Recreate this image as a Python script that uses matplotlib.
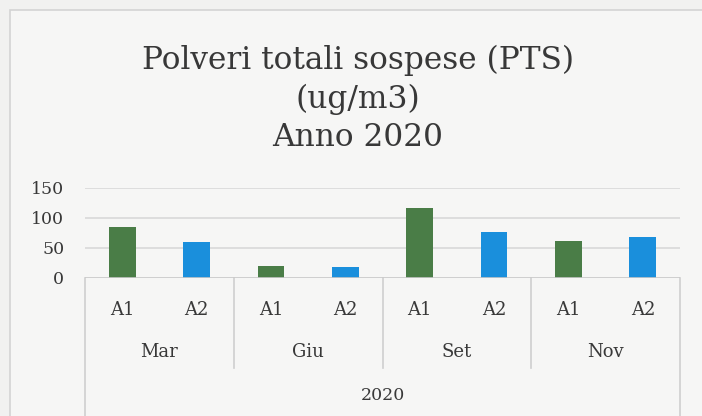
import matplotlib
matplotlib.use("Agg")
import matplotlib.pyplot as plt
import matplotlib.transforms as mtransforms
from matplotlib.lines import Line2D
from matplotlib.patches import Rectangle

# ---- data ----
title_lines = ["Polveri totali sospese (PTS)", "(ug/m3)", "Anno 2020"]
months = ["Mar", "Giu", "Set", "Nov"]
stations = ["A1", "A2"]
values_a1 = [85, 20, 117, 62]
values_a2 = [60, 18, 77, 69]
year = "2020"
yticks = [0, 50, 100, 150]

W, H = 702, 416
fig = plt.figure(figsize=(W / 100, H / 100), dpi=100)
bg = "#f1f1f0"
fig.patch.set_facecolor(bg)
plt.rcParams["font.family"] = ["DejaVu Serif"]
txt = "#383838"

# chart border
fig.add_artist(Rectangle((10 / W, -0.05), 1.2, 1 - 10 / H + 0.05, transform=fig.transFigure,
                         facecolor="#f6f6f5", edgecolor="#d4d4d4", lw=1.2, zorder=0))

left, right, y0, y150 = 85, 680, 278, 188
ax = fig.add_axes([left / W, 1 - y0 / H, (right - left) / W, (y0 - y150) / H])
ax.set_facecolor("none")

n = len(months) * len(stations)
xs = list(range(n))
vals = []
cols = []
labels = []
for i, m in enumerate(months):
    vals += [values_a1[i], values_a2[i]]
    cols += ["#4a7d47", "#1a8fdc"]
    labels += stations
ax.bar(xs, vals, width=0.36, color=cols, zorder=3)

ax.set_xlim(-0.5, n - 0.5)
ax.set_ylim(0, 150)
ax.set_yticks(yticks)
ax.set_yticklabels([str(v) for v in yticks], fontsize=12.5, color=txt)
ax.tick_params(axis="y", length=0, pad=15)
ax.set_xticks([])
for s in ax.spines.values():
    s.set_visible(False)
for v in yticks[1:]:
    ax.axhline(v, color="#d9d9d9", lw=1.2, zorder=1)
ax.axhline(0, color="#c8c8c8", lw=1.2, zorder=4)

# multi-level category axis
tr = mtransforms.blended_transform_factory(ax.transData, fig.transFigure)
fy = lambda py: 1 - py / H
for x, lab in zip(xs, labels):
    ax.text(x, fy(310), lab, transform=tr, ha="center", va="center", fontsize=13, color=txt)
for i, m in enumerate(months):
    ax.text(2 * i + 0.5, fy(352), m, transform=tr, ha="center", va="center", fontsize=13, color=txt)
ax.text((n - 1) / 2, fy(395), year, transform=tr, ha="center", va="center", fontsize=12.5, color=txt)

for xb in [1.5, 3.5, 5.5]:
    ax.add_line(Line2D([xb, xb], [fy(278), fy(368)], transform=tr, color="#cfcfcf", lw=1.2, clip_on=False))
for xb in [-0.5, n - 0.5]:
    ax.add_line(Line2D([xb, xb], [fy(278), fy(420)], transform=tr, color="#cfcfcf", lw=1.2, clip_on=False))

# title
for line, py in zip(title_lines, [60, 99, 137]):
    fig.text(358 / W, fy(py), line, ha="center", va="center", fontsize=22.5, color=txt)

fig.savefig("out.png", dpi=100, facecolor=bg)
